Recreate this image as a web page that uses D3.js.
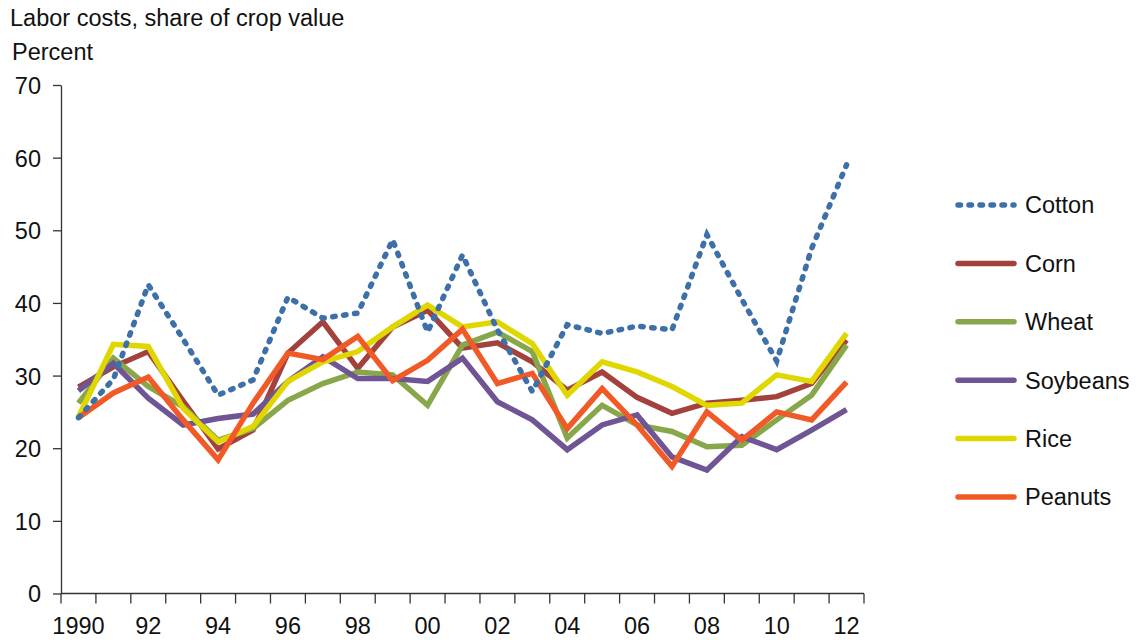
<!DOCTYPE html>
<meta charset="utf-8">
<style>
body {
  margin: 0;
  background: #fff;
  font-family: "Liberation Sans", Arial, sans-serif;
}
.axis path, .axis line {
  stroke: #333;
  stroke-width: 1.3px;
}
.axis text {
  font-size: 23.5px;
  fill: #111;
}
.line {
  fill: none;
  stroke-width: 5.5px;
  stroke-linejoin: miter;
}
</style>
<body>
<svg width="1138" height="640"></svg>
<script src="https://d3js.org/d3.v7.min.js"></script>
<script>
var years = d3.range(1990, 2013);

var cotton   = [24.2, 29.5, 42.5, 35, 27.3, 29.4, 40.8, 37.9, 38.6, 48.7, 36, 46.6, 36.3, 27.8, 37, 35.8, 36.8, 36.3, 49.4, 40.5, 32, 47.5, 59];
var corn     = [28.4, 31.2, 33.3, 26.5, 19.9, 22.5, 33.1, 37.4, 31, 36.7, 39, 33.8, 34.5, 31.9, 28, 30.5, 27, 24.8, 26.2, 26.6, 27.1, 28.9, 34.9];
var wheat    = [26.2, 32.4, 28.5, 25.7, 21.1, 22.7, 26.6, 28.9, 30.5, 30.1, 25.9, 34.2, 36, 33.3, 21.4, 25.9, 23.2, 22.3, 20.2, 20.4, 23.9, 27.3, 34.2];
var soybeans = [27.9, 31.7, 26.9, 23.2, 24.1, 24.7, 29.2, 32.6, 29.6, 29.6, 29.2, 32.4, 26.4, 23.9, 19.8, 23.2, 24.6, 18.8, 17, 21.6, 19.8, 22.5, 25.3];
var rice     = [24.3, 34.3, 34, 25.5, 20.9, 23, 29.2, 31.9, 33.3, 36.7, 39.7, 36.7, 37.4, 34.4, 27.3, 31.9, 30.5, 28.5, 25.9, 26.2, 30.1, 29.2, 35.8];
var peanuts  = [24.2, 27.6, 29.8, 23.9, 18.4, 26.2, 33.1, 32.2, 35.4, 29.3, 32.1, 36.4, 28.9, 30.3, 22.7, 28.2, 23.2, 17.5, 25, 21.1, 25, 23.9, 29.1];

var seriesNames  = ["Cotton", "Corn", "Wheat", "Soybeans", "Rice", "Peanuts"];
var seriesColors = ["#3d70a9", "#a3423d", "#87a74a", "#6f5594", "#e0d700", "#f15a27"];
var yTicks = [0, 10, 20, 30, 40, 50, 60, 70];

var series = [cotton, corn, wheat, soybeans, rice, peanuts].map(function(vals, i) {
  return {name: seriesNames[i], color: seriesColors[i], dotted: i === 0,
          values: vals.map(function(v, j) { return {year: years[j], value: v}; })};
});

var svg = d3.select("svg");

var x = d3.scaleBand().domain(years).range([61, 864]).paddingInner(0).paddingOuter(0),
    y = d3.scaleLinear().domain([0, 70]).range([593.5, 85]);

// titles
svg.append("text").attr("x", 10).attr("y", 26)
    .style("font-size", "23.5px").attr("fill", "#111")
    .text("Labor costs, share of crop value");
svg.append("text").attr("x", 12).attr("y", 60)
    .style("font-size", "23.5px").attr("fill", "#111")
    .text("Percent");

// y axis
svg.append("g")
    .attr("class", "axis")
    .attr("transform", "translate(61,0)")
    .call(d3.axisLeft(y).tickValues(yTicks).tickSize(8).tickPadding(12).tickSizeOuter(0))
    .call(function(g) { g.selectAll("text").attr("dy", "0.36em"); });

// x axis: labels on every other year, tick marks at category edges
var xAxis = svg.append("g")
    .attr("class", "axis")
    .attr("transform", "translate(0," + y(0) + ")")
    .call(d3.axisBottom(x).tickSize(0).tickPadding(23.5)
      .tickFormat(function(d) {
        if (d % 2) return "";
        return d === 1990 ? "1990" : d3.format("02")(d % 100);
      }));
xAxis.select(".domain").attr("d", "M" + x.range()[0] + ",0H" + x.range()[1]);
xAxis.selectAll(".edge")
    .data(years.map(function(d) { return x(d); }).concat([x.range()[1]]))
  .enter().append("line")
    .attr("class", "edge")
    .attr("x1", function(d) { return d; })
    .attr("x2", function(d) { return d; })
    .attr("y1", 0).attr("y2", 10);

var line = d3.line()
    .x(function(d) { return x(d.year) + x.bandwidth() / 2; })
    .y(function(d) { return y(d.value); });

// draw cotton last so its dots sit on top
var drawOrder = series.slice(1).concat([series[0]]);

svg.selectAll(".line")
    .data(drawOrder)
  .enter().append("path")
    .attr("class", "line")
    .attr("d", function(d) { return line(d.values); })
    .attr("stroke", function(d) { return d.color; })
    .attr("stroke-linecap", function(d) { return d.dotted ? "round" : "butt"; })
    .attr("stroke-dasharray", function(d) { return d.dotted ? "2.5 8.5" : null; });

// legend
var legend = svg.selectAll(".legend")
    .data(series)
  .enter().append("g")
    .attr("class", "legend")
    .attr("transform", function(d, i) { return "translate(955," + (205 + i * 58.4) + ")"; });

legend.append("line")
    .attr("x1", 3).attr("x2", 59).attr("y1", 0).attr("y2", 0)
    .attr("stroke", function(d) { return d.color; })
    .attr("stroke-width", 5.5)
    .attr("stroke-linecap", "round")
    .attr("stroke-dasharray", function(d) { return d.dotted ? "2.5 8.5" : null; });

legend.append("text")
    .attr("x", 70)
    .attr("dy", "0.36em")
    .style("font-size", "23.5px")
    .attr("fill", "#111")
    .text(function(d) { return d.name; });
</script>
</body>
